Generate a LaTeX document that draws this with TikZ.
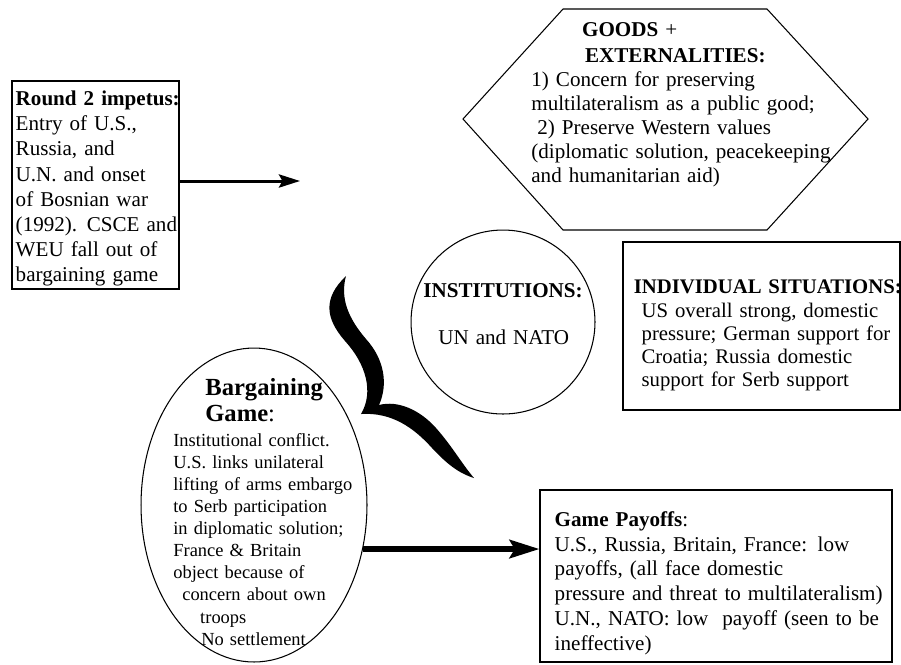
\documentclass[tikz,border=0pt]{standalone}
\usepackage{fontspec}
\setmainfont{Liberation Serif}
\usepackage{tikz}
\usetikzlibrary{shapes.geometric, arrows.meta, positioning, calc, fit}
\tikzset{
  frame/.style={rectangle, draw=black, line width=0.7pt, inner sep=0pt},
  thinline/.style={draw=black, line width=0.6pt},
  txt/.style={anchor=base west, inner sep=0pt, text width=7cm, align=left,
    font=\fontsize{12}{14.3}\selectfont},
  smalltxt/.style={txt, font=\fontsize{10.5}{12.6}\selectfont},
  arrow/.style={-{Stealth[length=12pt, width=7.5pt, inset=2pt]}, line width=1.7pt},
  bigarrow/.style={-{Stealth[length=17pt, width=10.5pt, inset=3pt]}, line width=3pt}
}

\begin{document}
\begin{tikzpicture}[x=0.02cm, y=-0.02cm]
  \useasboundingbox (0,0) rectangle (901,664);

  % Round 2 impetus
  \node[frame, fit={(12,81) (179,289)}] (round) {};
  \node[txt, font=\fontsize{12}{14.35}\selectfont] (roundtxt) at ($(round.north west)+(4,25)$)
    {\textbf{Round 2 impetus:}\\Entry of U.S.,\\Russia, and\\U.N. and onset\\of Bosnian war\\(1992).\hspace{5.5pt}CSCE and\\WEU fall out of\\bargaining game};
  \coordinate (gap) at (300,181);
  \draw[arrow] (round.east |- gap) -- (gap);

  % Goods + externalities
  \draw[thinline] (563,9) -- (767,9) -- (868,119) -- (767,230) -- (563,230) -- (463,119) -- cycle;
  \node[txt, font=\fontsize{12}{13.7}\selectfont] (goods) at (531,36)
    {\hspace*{28.9pt}\textbf{GOODS} +\\[1.4pt]\hspace*{30.6pt}\textbf{EXTERNALITIES:}\\1) Concern for preserving\\multilateralism as a public good;\\\hspace*{3.4pt}2) Preserve Western values\\(diplomatic solution, peacekeeping\\and humanitarian aid)};

  % Institutions
  \node[circle, thinline, minimum size=3.68cm, inner sep=0pt] (inst) at (503,322) {};
  \node[txt] (insttxt) at (423,297) {\textbf{INSTITUTIONS:}\\[12.9pt]\hspace*{8.5pt}UN and NATO};

  % Individual situations
  \node[frame, fit={(623,242) (900,410)}] (indiv) {};
  \node[txt, font=\fontsize{11.8}{13.2}\selectfont] (indivtxt) at ($(indiv.north west)+(11,52)$)
    {\textbf{INDIVIDUAL SITUATIONS:}\\[0.4pt]\hspace*{4.5pt}US overall strong, domestic\\\hspace*{4.5pt}pressure; German support for\\\hspace*{4.5pt}Croatia; Russia domestic\\\hspace*{4.5pt}support for Serb support};

  % Brace
  \fill[black] (346,276)
    .. controls (323,298) and (325,318) .. (345,341)
    .. controls (366,364) and (374,392) .. (361,414)
    .. controls (392,412) and (414,428) .. (432,448)
    .. controls (446,463) and (458,473) .. (474,478)
    .. controls (462,464) and (452,446) .. (436,428)
    .. controls (420,410) and (398,400) .. (379,405)
    .. controls (388,385) and (385,360) .. (366,339)
    .. controls (348,318) and (340,298) .. (346,276) -- cycle;

  % Bargaining game
  \node[ellipse, thinline, minimum width=4.52cm, minimum height=6.28cm, inner sep=0pt] (barg) at (254,505) {};
  \node[txt, font=\fontsize{14}{15.3}\selectfont] (bargtitle) at (205,395) {\textbf{Bargaining}\\\textbf{Game}:};
  \node[smalltxt] (bargtxt) at (173,446)
    {Institutional conflict.\\U.S. links unilateral\\lifting of arms embargo\\to Serb participation\\in diplomatic solution;\\France \& Britain\\object because of\\\hspace*{5.1pt}concern about own\\\hspace*{15.3pt}troops\\\hspace*{15.9pt}No settlement};

  % Game payoffs
  \node[frame, fit={(540,490) (892,662)}] (pay) {};
  \node[txt, font=\fontsize{12}{14.1}\selectfont] (paytxt) at ($(pay.north west)+(15,37)$)
    {\textbf{Game Payoffs}:\\U.S., Russia, Britain, France: low\\payoffs, (all face domestic\\pressure and threat to multilateralism)\\U.N., NATO: low\ \ payoff (seen to be\\ineffective)};
  \draw[bigarrow] (barg.-22) -- (barg.-22 -| pay.west);
\end{tikzpicture}
\end{document}
